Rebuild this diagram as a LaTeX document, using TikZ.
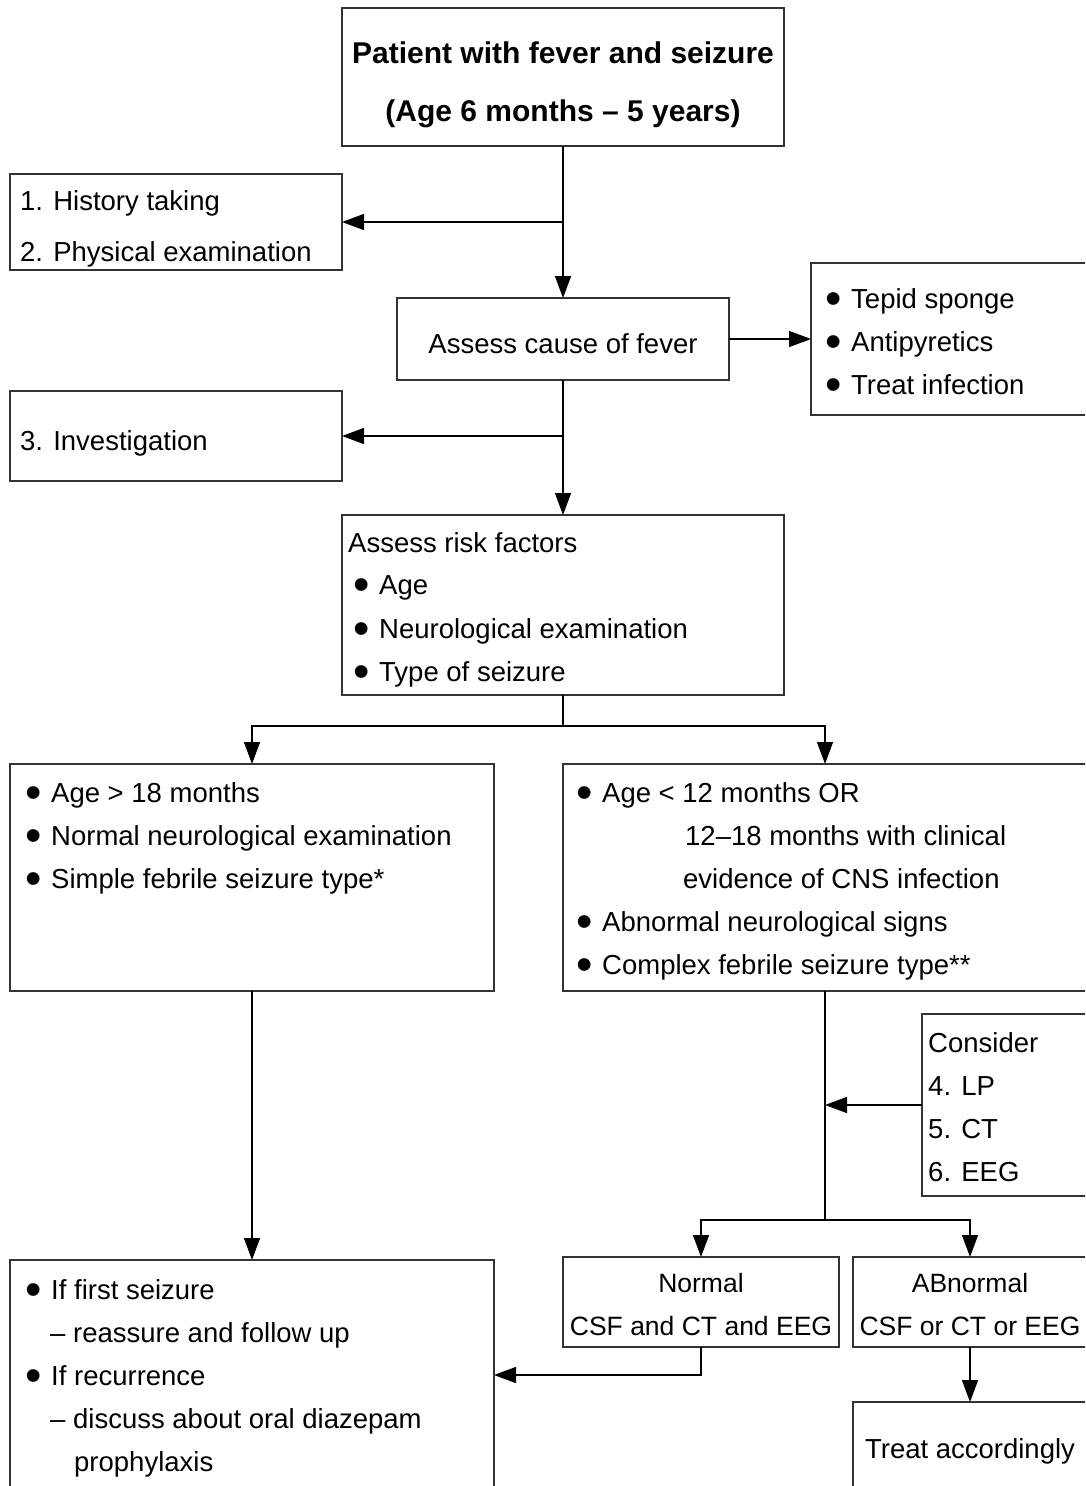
\documentclass[tikz,border=0pt]{standalone}
\usepackage{fontspec}
\setmainfont{Liberation Sans}
\usetikzlibrary{arrows.meta}
\begin{document}
\begin{tikzpicture}[x=1pt,y=-1pt]
\tikzset{
 box/.style={draw=black!80, line width=1.3pt, inner sep=0pt, outer sep=0pt, anchor=north west},
 txt/.style={inner sep=0pt, anchor=base west, font=\fontsize{27.5}{33}\selectfont},
 ctxt/.style={txt, anchor=base},
 stxt/.style={ctxt, font=\fontsize{26.5}{32}\selectfont},
 ttl/.style={inner sep=0pt, anchor=base, font=\fontsize{30}{36}\selectfont\bfseries},
 ln/.style={line width=1.3pt},
 arr/.style={ln, -{Triangle[length=22pt,width=16pt]}},
}
\newcommand\bl{\makebox[26pt][l]{\raisebox{-6pt}{\scalebox{1.7}{•}}}}
\useasboundingbox (0,0) rectangle (1085,1486);
\clip (0,0) rectangle (1085,1486);
% boxes
\node[box, minimum width=442, minimum height=138] (top) at (342,8) {};
\node[box, minimum width=332, minimum height=96] (hist) at (10,174) {};
\node[box, minimum width=332, minimum height=82] (cause) at (397,298) {};
\node[box, minimum width=290, minimum height=152] (tepid) at (811,263) {};
\node[box, minimum width=332, minimum height=90] (inv) at (10,391) {};
\node[box, minimum width=442, minimum height=180] (risk) at (342,515) {};
\node[box, minimum width=484, minimum height=227] (c1) at (10,764) {};
\node[box, minimum width=524, minimum height=227] (c2) at (563,764) {};
\node[box, minimum width=180, minimum height=182] (cons) at (922,1014) {};
\node[box, minimum width=276, minimum height=90] (norm) at (563,1257) {};
\node[box, minimum width=234, minimum height=90] (abn) at (853,1257) {};
\node[box, minimum width=484, minimum height=230] (mgmt) at (10,1260) {};
\node[box, minimum width=234, minimum height=120] (treat) at (853,1402) {};
% texts
\node[ttl] (t1) at (563,63) {Patient with fever and seizure};
\node[ttl] (t2) at (563,121) {(Age 6 months – 5 years)};
\node[txt] (h1) at (20,210) {1. History taking};
\node[txt] (h2) at (20,261) {2. Physical examination};
\node[ctxt] (ca) at (563,353) {Assess cause of fever};
\node[txt] (tp1) at (825,308) {\bl Tepid sponge};
\node[txt] (tp2) at (825,351) {\bl Antipyretics};
\node[txt] (tp3) at (825,394) {\bl Treat infection};
\node[txt] (iv) at (20,450) {3. Investigation};
\node[txt] (r0) at (348,552) {Assess risk factors};
\node[txt] (r1) at (353,594) {\bl Age};
\node[txt] (r2) at (353,638) {\bl Neurological examination};
\node[txt] (r3) at (353,681) {\bl Type of seizure};
\node[txt] (a1) at (25,802) {\bl Age > 18 months};
\node[txt] (a2) at (25,845) {\bl Normal neurological examination};
\node[txt] (a3) at (25,888) {\bl Simple febrile seizure type*};
\node[txt] (b1) at (576,802) {\bl Age < 12 months OR};
\node[txt] (b2) at (685,845) {12–18 months with clinical};
\node[txt] (b3) at (683,888) {evidence of CNS infection};
\node[txt] (b4) at (576,931) {\bl Abnormal neurological signs};
\node[txt] (b5) at (576,974) {\bl Complex febrile seizure type**};
\node[txt] (k0) at (928,1052) {Consider};
\node[txt] (k1) at (928,1095) {4. LP};
\node[txt] (k2) at (928,1138) {5. CT};
\node[txt] (k3) at (928,1181) {6. EEG};
\node[stxt] (n1) at (701,1292) {Normal};
\node[stxt] (n2) at (701,1335) {CSF and CT and EEG};
\node[stxt] (ab1) at (970,1292) {ABnormal};
\node[stxt] (ab2) at (970,1335) {CSF or CT or EEG};
\node[txt] (m1) at (25,1299) {\bl If first seizure};
\node[txt] (m2) at (50,1342) {– reassure and follow up};
\node[txt] (m3) at (25,1385) {\bl If recurrence};
\node[txt] (m4) at (50,1428) {– discuss about oral diazepam};
\node[txt] (m5) at (74,1471) {prophylaxis};
\node[ctxt] (tr) at (970,1458) {Treat accordingly};
% connectors
\draw[arr] (top) -- (cause);
\coordinate (j1) at (563,222);
\draw[arr] (j1) -- (hist.east);
\draw[arr] (cause.east) -- (tepid.west);
\draw[arr] (cause) -- (risk);
\coordinate (j2) at (563,436);
\draw[arr] (j2) -- (inv.east);
\draw[ln] (risk.south) -- ++(0,31) coordinate (j3);
\draw[arr] (j3) -| (c1.north);
\draw[arr] (j3) -| (c2.north);
\draw[arr] (c1) -- (mgmt);
\draw[ln] (c2.south) -- ++(0,229) coordinate (j4);
\coordinate (j5) at (825,1105);
\draw[arr] (cons.west) -- (j5);
\draw[arr] (j4) -| (norm.north);
\draw[arr] (j4) -| (abn.north);
\draw[arr] (norm.south) |- (mgmt.east);
\draw[arr] (abn) -- (treat);
\end{tikzpicture}
\end{document}
